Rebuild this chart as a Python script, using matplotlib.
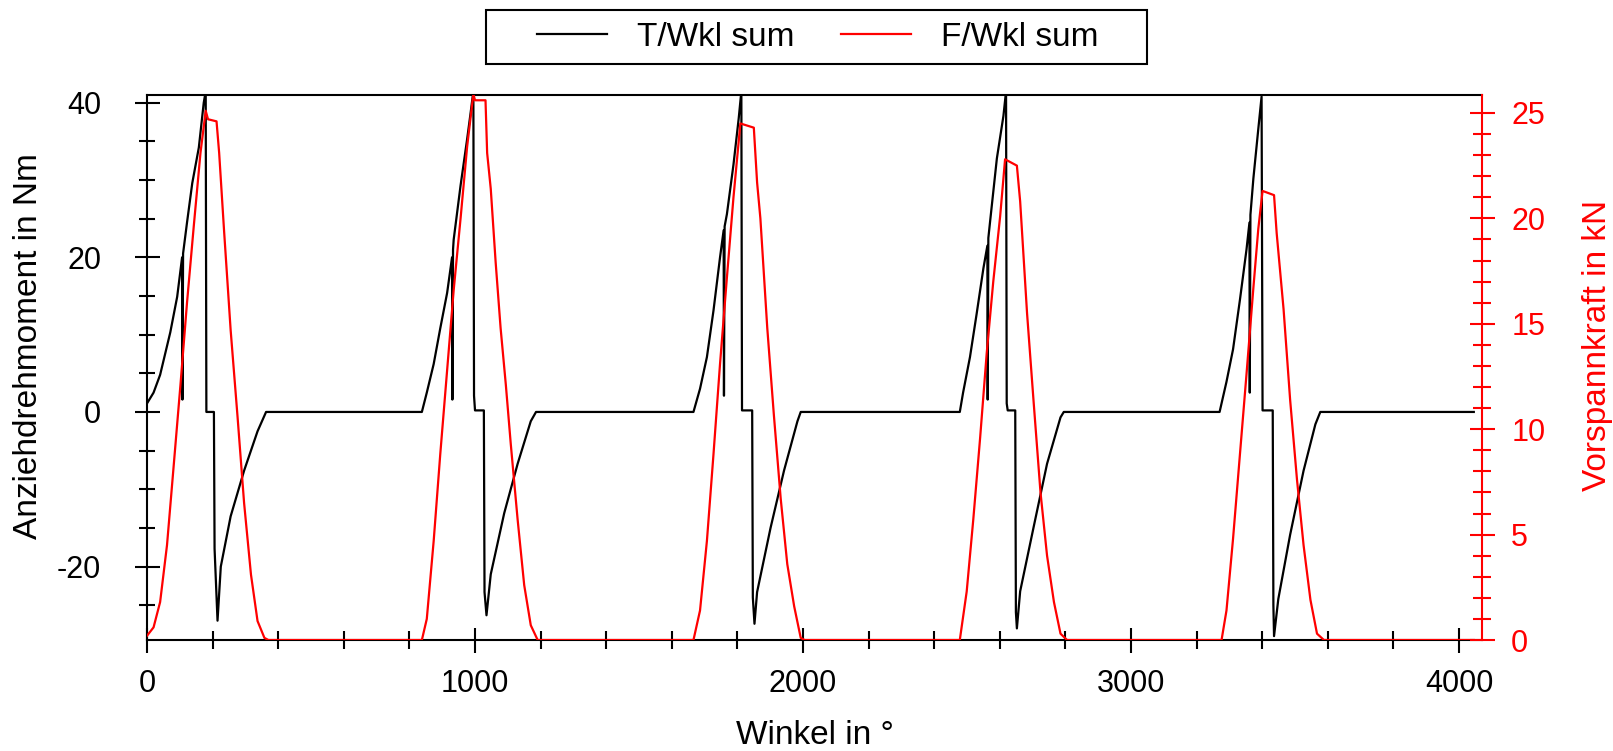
import matplotlib
matplotlib.use("Agg")
import matplotlib.pyplot as plt
from matplotlib.patches import Rectangle
from matplotlib.ticker import MultipleLocator

plt.rcParams["font.family"] = ["Liberation Sans", "DejaVu Sans"]
plt.rcParams["axes.unicode_minus"] = False

# Torque (T/Wkl sum): angle in deg, torque in Nm
angle_t = [0, 20, 40, 71, 92, 107, 108, 110, 122, 138, 158, 173, 179, 181, 204, 206, 215, 225, 255, 296, 337, 363,
           838, 853, 874, 894, 915, 930, 931, 933, 935, 956, 976, 986, 995, 997, 1000, 1027, 1029, 1035, 1048, 1089, 1130, 1170, 1186,
           1666, 1686, 1707, 1727, 1747, 1758, 1759, 1761, 1768, 1788, 1804, 1812, 1814, 1845, 1847, 1852, 1860, 1901, 1942, 1983, 1993,
           2478, 2488, 2509, 2529, 2550, 2562, 2563, 2565, 2570, 2591, 2611, 2619, 2621, 2624, 2647, 2649, 2652, 2662, 2703, 2744, 2785, 2795,
           3270, 3291, 3311, 3332, 3352, 3361, 3362, 3364, 3373, 3388, 3398, 3401, 3432, 3434, 3436, 3449, 3485, 3526, 3562, 3577,
           4045]
torque = [1.1, 2.5, 4.8, 10.3, 14.9, 20.0, 1.6, 20.5, 24.5, 29.6, 34.2, 40.0, 41.5, 0.0, 0.0, -17.7, -27.0, -20.0, -13.5, -7.6, -2.5, 0.0,
          0.0, 2.5, 6.2, 10.8, 15.4, 20.0, 1.6, 21.0, 22.3, 29.3, 35.3, 38.5, 41.5, 2.1, 0.2, 0.2, -23.3, -26.3, -21.0, -13.1, -6.7, -1.2, 0.0,
          0.0, 3.0, 7.1, 13.1, 20.0, 23.5, 2.1, 24.0, 25.6, 32.0, 38.0, 41.5, 0.2, 0.2, -24.0, -27.4, -23.3, -15.0, -7.6, -1.2, 0.0,
          0.0, 2.5, 7.1, 12.6, 18.6, 21.5, 1.6, 22.5, 24.5, 32.8, 38.3, 41.5, 1.1, 0.2, 0.2, -25.9, -28.0, -23.2, -14.9, -6.7, -0.7, 0.0,
          0.0, 3.9, 8.1, 14.5, 21.0, 24.5, 2.5, 25.5, 30.2, 36.6, 40.8, 0.2, 0.2, -25.0, -29.0, -24.2, -15.9, -7.6, -1.6, 0.0,
          0.0]

# Preload force (F/Wkl sum): angle in deg, force in kN
angle_f = [0, 20, 40, 61, 81, 102, 122, 143, 163, 179, 186, 212, 220, 235, 255, 276, 296, 317, 337, 358, 370,
           838, 853, 874, 894, 915, 935, 956, 976, 995, 1000, 1032, 1037, 1048, 1063, 1078, 1094, 1109, 1130, 1150, 1170, 1191,
           1666, 1686, 1707, 1727, 1747, 1768, 1788, 1809, 1850, 1860, 1870, 1891, 1911, 1932, 1952, 1973, 1993, 2005,
           2478, 2499, 2519, 2540, 2560, 2580, 2601, 2616, 2652, 2662, 2683, 2703, 2724, 2744, 2765, 2785, 2805,
           3276, 3291, 3311, 3332, 3352, 3373, 3388, 3401, 3436, 3444, 3465, 3485, 3506, 3526, 3547, 3567, 3588,
           4045]
force = [0.2, 0.6, 1.8, 4.5, 8.2, 12.1, 16.0, 19.7, 23.1, 25.1, 24.7, 24.6, 23.1, 19.4, 14.7, 10.6, 6.5, 3.1, 0.9, 0.1, 0.0,
         0.0, 1.0, 4.7, 8.8, 12.8, 16.6, 20.0, 23.4, 25.9, 25.6, 25.6, 23.1, 21.4, 17.9, 14.8, 12.1, 9.3, 5.7, 2.6, 0.7, 0.0,
         0.0, 1.4, 4.7, 8.8, 13.1, 17.2, 21.0, 24.5, 24.3, 21.7, 20.0, 14.8, 10.7, 6.7, 3.6, 1.6, 0.1, 0.0,
         0.0, 2.3, 5.7, 9.6, 13.6, 17.0, 20.1, 22.8, 22.5, 20.8, 15.5, 11.3, 7.0, 4.0, 1.8, 0.3, 0.0,
         0.0, 1.4, 4.8, 8.8, 12.6, 16.7, 19.5, 21.3, 21.1, 19.3, 15.7, 11.4, 7.6, 4.5, 1.9, 0.3, 0.0,
         0.0]

W, H = 1613, 751
fig = plt.figure(figsize=(W / 100, H / 100), dpi=100)
ax = fig.add_axes([147 / W, 1 - 640 / H, (1482 - 147) / W, (640 - 95) / H])

l1, = ax.plot(angle_t, torque, color="black", lw=1.6, label="T/Wkl sum")
ax.set_xlim(0, 4070)
ax.set_ylim(-29.5, 41)
ax.xaxis.set_major_locator(MultipleLocator(1000))
ax.xaxis.set_minor_locator(MultipleLocator(200))
ax.yaxis.set_major_locator(MultipleLocator(20))
ax.yaxis.set_minor_locator(MultipleLocator(5))
ax.tick_params(which="both", direction="inout", width=1.5, labelsize=22)
ax.tick_params(axis="x", which="major", length=18, pad=12)
ax.tick_params(axis="x", which="minor", length=13)
ax.tick_params(axis="y", which="major", length=18, pad=24)
ax.tick_params(axis="y", which="minor", length=12)
ax.spines["right"].set_visible(False)
for s in ["left", "top", "bottom"]:
    ax.spines[s].set_linewidth(1.5)
ax.set_xlabel("Winkel in °", fontsize=24, labelpad=15)
ax.set_ylabel("Anziehdrehmoment in Nm", fontsize=24)
ax.yaxis.set_label_coords(-0.077, 0.54)

ax2 = ax.twinx()
l2, = ax2.plot(angle_f, force, color="red", lw=1.6, label="F/Wkl sum")
ax2.set_ylim(0, 25.85)
ax2.yaxis.set_major_locator(MultipleLocator(5))
ax2.yaxis.set_minor_locator(MultipleLocator(1))
ax2.tick_params(which="both", direction="inout", width=1.5, colors="red", labelsize=22)
ax2.tick_params(which="major", length=18, pad=12)
ax2.tick_params(which="minor", length=13)
for s in ["left", "top", "bottom"]:
    ax2.spines[s].set_visible(False)
ax2.spines["right"].set_color("red")
ax2.spines["right"].set_linewidth(1.5)
ax2.set_ylabel("Vorspannkraft in kN", fontsize=24, color="red", rotation=90)
ax2.yaxis.set_label_coords(1.075, 0.54)

fig.patches.append(Rectangle((486 / W, 1 - 64 / H), 661 / W, 54 / H, transform=fig.transFigure,
                             facecolor="white", edgecolor="black", lw=1.5))
fig.legend(handles=[l1, l2], loc="center", bbox_to_anchor=(818 / W, 1 - 37 / H), ncol=2,
           frameon=False, fontsize=24, handlelength=2.1, handletextpad=0.9, columnspacing=1.4)

fig.savefig("out.png", dpi=100)
